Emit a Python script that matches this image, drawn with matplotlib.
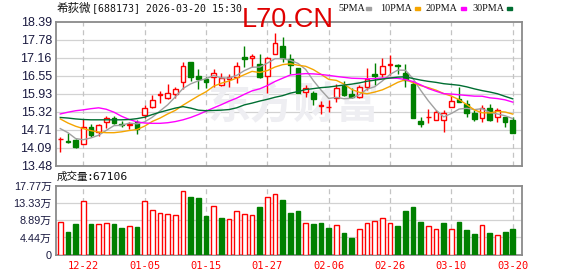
import matplotlib
matplotlib.use('Agg')
import matplotlib.pyplot as plt
import numpy as np
import pandas as pd
from matplotlib.patches import Rectangle

# ---------------- data ----------------
opens = [14.38, 14.30, 14.35, 14.23, 14.79, 14.61, 14.96, 15.10, 14.91, 14.86,
         14.98, 15.21, 15.47, 15.88, 15.78, 15.91, 16.32, 17.00, 16.54, 16.43,
         16.51, 16.23, 16.43, 16.49, 17.19, 17.14, 16.95, 16.55, 17.28, 17.56,
         17.11, 16.80, 15.98, 15.95, 15.51, 15.47, 15.78, 16.21, 15.91, 15.81,
         16.15, 16.61, 16.60, 16.90, 16.91, 16.63, 16.27, 15.00, 15.12, 15.04,
         15.04, 15.49, 15.75, 15.57, 15.27, 15.10, 15.46, 15.13, 15.15, 15.04]
closes = [14.40, 14.27, 14.12, 14.79, 14.53, 14.86, 15.10, 14.92, 14.86, 14.90,
          14.73, 15.44, 15.72, 15.92, 15.95, 16.09, 16.87, 16.51, 16.43, 16.32,
          16.63, 16.46, 16.49, 16.89, 17.13, 17.21, 16.49, 17.16, 17.65, 17.14,
          16.92, 15.96, 16.12, 15.75, 15.53, 15.49, 16.14, 15.89, 15.83, 16.15,
          16.43, 16.55, 16.88, 16.94, 16.89, 16.40, 15.10, 14.89, 15.14, 15.30,
          15.27, 15.69, 15.64, 15.27, 15.07, 15.44, 15.04, 15.38, 14.96, 14.59]
highs = [14.46, 14.58, 14.40, 15.06, 14.89, 14.90, 15.18, 15.17, 15.00, 14.97,
         15.04, 15.53, 15.89, 16.04, 16.27, 16.16, 17.00, 17.00, 16.76, 16.51,
         16.76, 16.63, 16.61, 17.00, 17.57, 17.29, 17.28, 17.18, 18.00, 17.88,
         17.29, 16.82, 16.23, 16.03, 15.69, 15.72, 16.26, 16.37, 16.12, 16.23,
         16.80, 16.97, 17.14, 17.25, 16.94, 16.94, 16.38, 15.15, 15.41, 15.38,
         15.38, 15.86, 16.17, 15.72, 15.38, 15.53, 15.57, 15.44, 15.15, 15.12]
lows = [13.94, 14.24, 14.09, 14.23, 14.45, 14.50, 14.75, 14.89, 14.81, 14.72,
        14.56, 15.10, 15.44, 15.61, 15.74, 15.80, 16.09, 16.38, 16.08, 16.12,
        16.15, 16.21, 16.17, 16.29, 16.86, 16.86, 16.48, 15.95, 17.28, 17.03,
        16.59, 15.95, 15.83, 15.55, 15.24, 15.32, 15.66, 15.86, 15.78, 15.78,
        16.06, 16.23, 16.51, 16.57, 16.60, 16.17, 15.10, 14.78, 14.92, 15.04,
        14.62, 15.49, 15.64, 15.15, 15.01, 14.96, 15.01, 14.96, 14.81, 14.59]
volumes_wan = [8.37, 5.82, 7.86, 13.9, 7.86, 7.79, 8.04, 7.86, 6.84, 7.28,
               7.10, 13.7, 11.57, 10.8, 10.55, 10.3, 16.25, 14.8, 14.47, 9.87,
               12.4, 9.36, 9.28, 11.3, 10.4, 10.1, 12.2, 14.7, 15.66, 13.96,
               10.6, 11.15, 8.25, 7.83, 8.08, 6.8, 7.57, 5.53, 4.26, 6.72,
               8.25, 8.77, 9.53, 8.25, 7.32, 11.15, 12.17, 8.34, 7.32, 6.55,
               8.08, 6.72, 8.34, 6.3, 5.36, 7.57, 5.53, 5.02, 5.79, 6.71]

# moving-average values at the start of the window (history before the window)
ma5_head = [14.74, 14.60, 14.40, 14.36]
ma10_head = [15.07, 14.93, 14.82, 14.74, 14.67, 14.62, 14.60, 14.60, 14.63]
ma20_head = [15.24, 15.30, 15.35, 15.38, 15.42, 15.45, 15.40, 15.30, 15.16, 15.05,
             14.97, 14.93, 14.92, 14.92, 14.94, 14.98, 15.04, 15.12, 15.22]
ma30_head = [15.12, 15.10, 15.07, 15.05, 15.04, 15.04, 15.04, 15.04, 15.04, 15.05,
             15.08, 15.13, 15.22, 15.30, 15.37, 15.44, 15.49, 15.44, 15.37, 15.35,
             15.36, 15.37, 15.39, 15.45, 15.55, 15.61, 15.68, 15.74, 15.81]

price_tick_labels = ['13.48', '14.09', '14.71', '15.32', '15.93', '16.55', '17.16', '17.78', '18.39']
vol_tick_values = [0, 4.44, 8.89, 13.33, 17.77]
vol_tick_labels = ['0', '4.44万', '8.89万', '13.33万', '17.77万']
date_labels = ['12-22', '01-05', '01-15', '01-27', '02-06', '02-26', '03-10', '03-20']
date_index = [3, 11, 19, 27, 35, 43, 51, 59]
stock_name = '希荻微'
title_rest = '[688173] 2026-03-20 15:30'
volume_name = '成交量'
volume_rest = ':67106'
legend_names = ['5PMA', '10PMA', '20PMA', '30PMA']

# ---------------- style ----------------
RED = '#ff0000'
GREEN = '#008000'
MA_COLORS = ['#a0a0a0', '#f5a500', '#ff00ff', '#006e32']
FRAME = '#8a8a8a'
GRID = '#d2d2d2'
LABEL = '#1a1a40'

W, H = 578, 276
fig = plt.figure(figsize=(W / 100, H / 100), dpi=100)
fig.patch.set_facecolor('white')


def fx(x):
    return x / W


def fy(y):
    return 1 - y / H


ax = fig.add_axes([fx(56), fy(165.5), (522 - 56) / W, (165.5 - 21.7) / H])
axv = fig.add_axes([fx(56), fy(254.7), (522 - 56) / W, (254.7 - 185.5) / H])

n = len(closes)
x = np.arange(n)
o = np.array(opens)
c = np.array(closes)
hi = np.array(highs)
lo = np.array(lows)
up = c >= o

# moving averages
s = pd.Series(closes)
mas = []
for win, head in zip([5, 10, 20, 30], [ma5_head, ma10_head, ma20_head, ma30_head]):
    m = s.rolling(win).mean().to_numpy()
    m[:win - 1] = head
    mas.append(m)

# ---- main price panel ----
ylo, yhi = 13.48, 18.39
ax.set_xlim(-0.56, 60.2)
ax.set_ylim(ylo, yhi)
tick_pos = np.linspace(ylo, yhi, len(price_tick_labels))
for t in tick_pos[1:-1]:
    ax.axhline(t, color=GRID, lw=0.9, zorder=0)
for di in date_index:
    ax.axvline(di, color='#c4c4c4', lw=0.9, ls=(0, (4, 3)), zorder=0)

# faint watermark
ax.text(0.51, 0.42, '东方财富', transform=ax.transAxes, ha='center', va='center',
        fontsize=31, color='#eeeef2', fontweight='bold', style='italic',
        family=['Noto Sans CJK SC'], zorder=0.5)

colors = np.where(up, RED, GREEN)
ax.vlines(x, lo, hi, colors=colors, lw=1.0, zorder=2)
bh = np.maximum(np.abs(c - o), 0.012)
bb = np.minimum(o, c)
ax.bar(x, bh, bottom=bb, width=0.6,
       color=np.where(up, 'white', GREEN), edgecolor=colors, linewidth=1.0, zorder=3)

for m, col in zip(mas, MA_COLORS):
    ax.plot(x, m, color=col, lw=1.0, zorder=4)

ax.set_yticks(tick_pos)
ax.set_yticklabels(price_tick_labels)
ax.set_xticks([])
ax.tick_params(axis='y', length=0, pad=3, labelsize=9, labelcolor=LABEL)
for lab in ax.get_yticklabels():
    lab.set_family('Liberation Sans')
for sp in ax.spines.values():
    sp.set_color(FRAME)
    sp.set_linewidth(1.3)

# ---- volume panel ----
prev = np.concatenate([[opens[0]], c[:-1]])
vup = c >= prev
vcol = np.where(vup, RED, GREEN)
axv.set_xlim(-0.56, 60.2)
axv.set_ylim(0, vol_tick_values[-1])
for t in vol_tick_values[1:-1]:
    axv.axhline(t, color=GRID, lw=0.9, zorder=0)
for di in date_index:
    axv.axvline(di, color='#c4c4c4', lw=0.9, ls=(0, (4, 3)), zorder=0)
axv.bar(x, volumes_wan, width=0.62, color=np.where(vup, 'white', GREEN),
        edgecolor=vcol, linewidth=1.0, zorder=3)
axv.set_yticks(vol_tick_values)
axv.set_yticklabels(vol_tick_labels)
axv.tick_params(axis='y', length=0, pad=3, labelsize=7.8, labelcolor=LABEL)
for lab in axv.get_yticklabels():
    lab.set_family(['Liberation Sans', 'Noto Sans CJK SC'])
axv.set_xticks(date_index)
axv.set_xticklabels(date_labels)
axv.tick_params(axis='x', length=0, pad=4.5, labelsize=7.5, labelcolor=RED)
for lab in axv.get_xticklabels():
    lab.set_family('DejaVu Sans Mono')
for sp in axv.spines.values():
    sp.set_color(FRAME)
    sp.set_linewidth(1.3)

# ---- header texts ----
fig.text(fx(56.5), fy(8.5), stock_name, ha='left', va='center', fontsize=8.3,
         family=['Noto Sans CJK SC'], color='#111111')
fig.text(fx(91.5), fy(8.5), title_rest, ha='left', va='center', fontsize=7.1,
         family=['DejaVu Sans Mono'], color='#111111')
fig.text(fx(242), fy(27), 'L70.CN', ha='left', va='baseline', fontsize=19.5,
         family='Liberation Sans', color='#e00000')
fig.text(fx(56.5), fy(177), volume_name, ha='left', va='center', fontsize=7.6,
         family=['Noto Sans CJK SC'], color='#111111')
fig.text(fx(86), fy(177), volume_rest, ha='left', va='center', fontsize=8.2,
         family=['DejaVu Sans Mono'], color='#111111')

leg_x = [338, 380, 425, 472]
mark_x = [366, 415, 461, 507]
for name, lx, mx, col in zip(legend_names, leg_x, mark_x, MA_COLORS):
    fig.text(fx(lx), fy(8.5), name, ha='left', va='center', fontsize=7.3,
             family='Liberation Serif', color='#111111')
    fig.patches.append(Rectangle((fx(mx), fy(10)), 5 / W, 3 / H,
                                 transform=fig.transFigure, color=col))

fig.savefig('out.png', dpi=100)
